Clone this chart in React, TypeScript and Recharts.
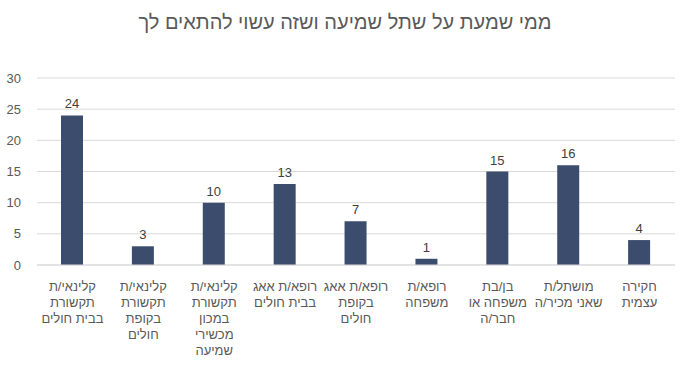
import { BarChart, Bar, XAxis, YAxis, CartesianGrid, LabelList } from 'recharts'

const categories = [
  'קלינאי/ת\nתקשורת\nבבית חולים',
  'קלינאי/ת\nתקשורת\nבקופת\nחולים',
  'קלינאי/ת\nתקשורת\nבמכון\nמכשירי\nשמיעה',
  'רופא/ת אאג\nבבית חולים',
  'רופא/ת אאג\nבקופת\nחולים',
  'רופא/ת\nמשפחה',
  'בן/בת\nמשפחה או\nחבר/ה',
  'מושתל/ת\nשאני מכיר/ה',
  'חקירה\nעצמית',
]

const counts = [24, 3, 10, 13, 7, 1, 15, 16, 4]

const yTicks = [0, 5, 10, 15, 20, 25, 30]

const title = 'ממי שמעת על שתל שמיעה ושזה עשוי להתאים לך'

const data = categories.map((c, i) => ({ name: c, value: counts[i] }))

const FONT = '"Liberation Sans", Arial, sans-serif'

// multi-line category label under each bar
function CategoryTick({ x, y, payload }: any) {
  const lines = String(payload.value).split('\n')
  return (
    <text
      x={x}
      y={y}
      textAnchor="middle"
      direction="rtl"
      fill="#595959"
      fontSize={13}
      fontFamily={FONT}
    >
      {lines.map((l, i) => (
        <tspan key={i} x={x} dy={i === 0 ? 18 : 16}>
          {l}
        </tspan>
      ))}
    </text>
  )
}

export default function App() {
  return (
    <div style={{ position: 'absolute', left: 0, top: 0, width: 690, height: 366, background: '#fff' }}>
      <div
        style={{
          position: 'absolute',
          left: 0,
          top: 11,
          width: 690,
          textAlign: 'center',
          direction: 'rtl',
          fontFamily: FONT,
          fontSize: 20,
          color: '#595959',
        }}
      >
        {title}
      </div>
      <BarChart
        width={690}
        height={366}
        data={data}
        margin={{ top: 78, right: 15, bottom: 0, left: 0 }}
      >
        <CartesianGrid vertical={false} stroke="#d9d9d9" />
        <XAxis
          dataKey="name"
          axisLine={{ stroke: '#d9d9d9' }}
          tickLine={false}
          interval={0}
          height={101}
          tick={<CategoryTick />}
        />
        <YAxis
          domain={[0, 30]}
          ticks={yTicks}
          width={37}
          axisLine={false}
          tickLine={false}
          tickMargin={10}
          tick={{ fill: '#595959', fontSize: 13, fontFamily: FONT }}
        />
        <Bar dataKey="value" fill="#3b4c6c" barSize={22} isAnimationActive={false}>
          <LabelList
            dataKey="value"
            position="top"
            offset={7}
            fill="#404040"
            fontSize={13}
            fontFamily={FONT}
          />
        </Bar>
      </BarChart>
    </div>
  )
}
